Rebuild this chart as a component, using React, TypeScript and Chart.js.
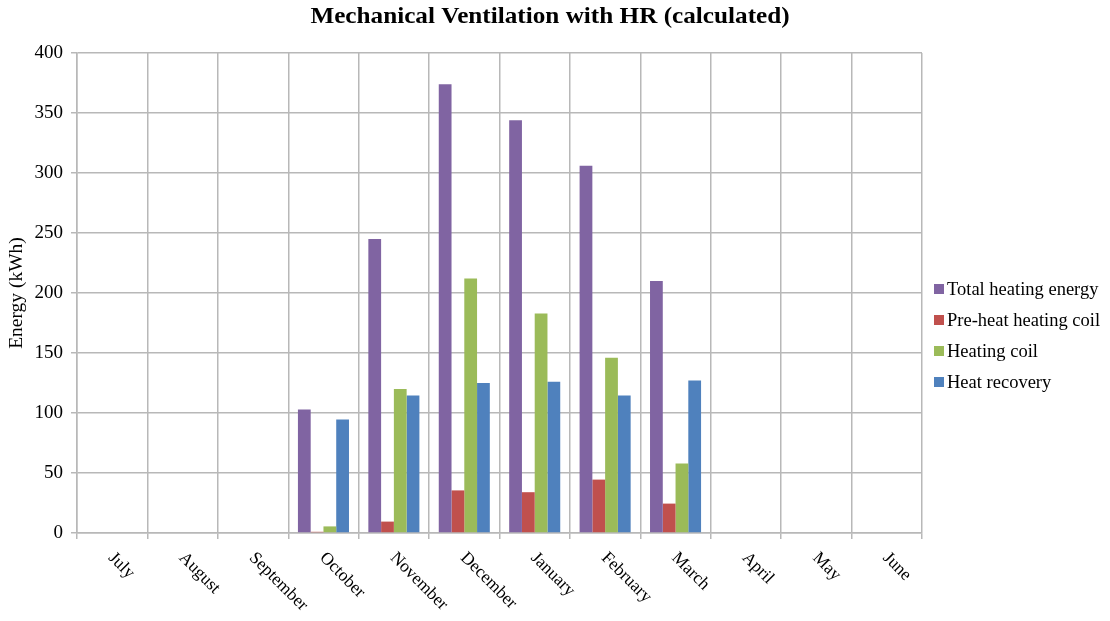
import React, { useEffect, useRef } from "react";
import { Chart, registerables } from "chart.js";

Chart.register(...registerables);

const months = ["July", "August", "September", "October", "November", "December", "January", "February", "March", "April", "May", "June"];
const totalHeating = [0, 0, 0, 103, 245, 374, 344, 306, 210, 0, 0, 0];
const preHeatCoil = [0, 0, 0, 1, 9.5, 35.5, 34, 44.5, 24.5, 0, 0, 0];
const heatingCoil = [0, 0, 0, 5.5, 120, 212, 183, 146, 58, 0, 0, 0];
const heatRecovery = [0, 0, 0, 94.5, 114.5, 125, 126, 114.5, 127, 0, 0, 0];
const seriesNames = ["Total heating energy", "Pre-heat heating coil", "Heating coil", "Heat recovery"];
const seriesColors = ["#8064A2", "#C0504D", "#9BBB59", "#4F81BD"];
const titleText = "Mechanical Ventilation with HR (calculated)";
const yAxisTitle = "Energy (kWh)";

const SERIF = "'Liberation Serif', 'Times New Roman', serif";
const GRID = "#B8B8B8";

export default function App() {
  const ref = useRef<HTMLCanvasElement | null>(null);

  useEffect(() => {
    const canvas = ref.current;
    if (!canvas) return;

    const decor = {
      id: "decor",
      afterDraw(chart: any) {
        const { ctx, chartArea } = chart;
        const xs = chart.scales.x;
        ctx.save();
        // title
        ctx.fillStyle = "#000";
        ctx.font = `bold 24px ${SERIF}`;
        ctx.textAlign = "center";
        ctx.textBaseline = "alphabetic";
        ctx.save();
        ctx.translate(550, 23);
        ctx.scale(1.05, 1);
        ctx.fillText(titleText, 0, 0);
        ctx.restore();
        // x labels rotated
        ctx.font = `17.5px ${SERIF}`;
        ctx.textAlign = "left";
        ctx.textBaseline = "top";
        months.forEach((m, i) => {
          const x = xs.getPixelForTick(i);
          ctx.save();
          ctx.translate(x + 5, chartArea.bottom + 16);
          ctx.rotate(Math.PI / 4);
          ctx.fillText(m, 0, 0);
          ctx.restore();
        });
        // legend
        ctx.font = `18.5px ${SERIF}`;
        ctx.textBaseline = "middle";
        seriesNames.forEach((n, i) => {
          const cy = 289 + 31 * i;
          ctx.fillStyle = seriesColors[i];
          ctx.fillRect(934, cy - 5, 10, 10);
          ctx.fillStyle = "#000";
          ctx.fillText(n, 947, cy + 1);
        });
        ctx.restore();
      },
    };

    const chart = new Chart(canvas, {
      type: "bar",
      data: {
        labels: months,
        datasets: [totalHeating, preHeatCoil, heatingCoil, heatRecovery].map((d, i) => ({
          label: seriesNames[i],
          data: d,
          backgroundColor: seriesColors[i],
          borderWidth: 0,
          categoryPercentage: 0.725,
          barPercentage: 1,
        })),
      },
      options: {
        responsive: false,
        animation: false,
        devicePixelRatio: 1,
        layout: { padding: { top: 53, right: 188, left: 0, bottom: 0 } },
        plugins: {
          legend: { display: false },
          title: { display: false },
          tooltip: { enabled: false },
        },
        scales: {
          x: {
            grid: { color: GRID, lineWidth: 1.5, tickLength: 6, offset: true },
            border: { color: GRID, width: 1.5 },
            ticks: { display: false },
            afterFit: (s: any) => {
              s.height = 88;
            },
          },
          y: {
            min: 0,
            max: 400,
            ticks: {
              stepSize: 50,
              color: "#000",
              padding: 8,
              font: { family: SERIF, size: 19 },
            },
            grid: { color: GRID, lineWidth: 1.5, tickLength: 6 },
            border: { color: GRID, width: 1.5 },
            title: {
              display: true,
              text: yAxisTitle,
              color: "#000",
              font: { family: SERIF, size: 19.5 },
              padding: { top: 5, bottom: 0 },
            },
            afterFit: (s: any) => {
              s.width = 77;
            },
          },
        },
      },
      plugins: [decor],
    });
    return () => chart.destroy();
  }, []);

  return (
    <div style={{ position: "absolute", left: 0, top: 0, width: 1110, height: 621, background: "#fff" }}>
      <canvas ref={ref} width={1110} height={621} />
    </div>
  );
}
